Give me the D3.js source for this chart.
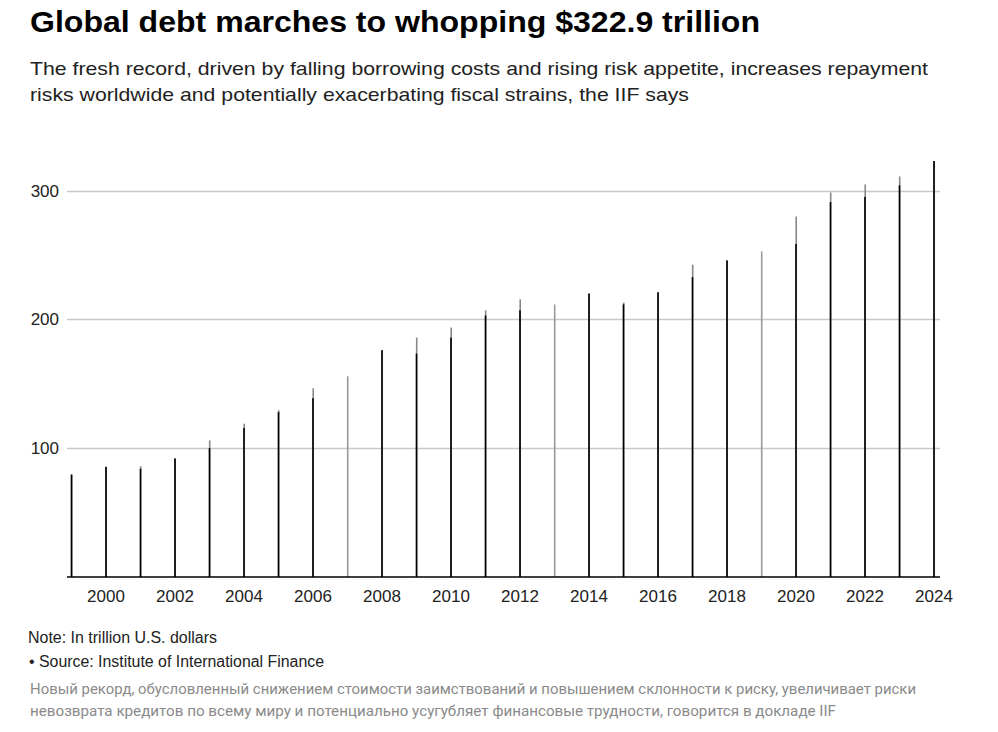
<!DOCTYPE html>
<html>
<head>
<meta charset="utf-8">
<script src="https://cdn.jsdelivr.net/npm/d3@7"></script>
<style>
  body { margin: 0; background: #fff; }
  svg text { font-family: "Liberation Sans", Arial, sans-serif; }
</style>
</head>
<body>
<svg id="chart" width="998" height="732"></svg>
<script>
// year of each bar
const years = d3.range(1999, 2025);
// taller reading per year (trillion USD)
const debtHigh = [79.5, 85.5, 86, 92, 106, 119, 129.5, 146.5, 155.8, 176, 185.8, 193.6, 207,
    215.5, 211.6, 220, 213, 221, 242.4, 245.7, 252.7, 279.8, 298.4, 304.7, 310.9, 322.9];
// lower reading per year (null where only one is drawn)
const debtLow = [79.5, 85.5, 84, 92, 100, 115.7, 128, 138.8, null, 176, 173.4, 185.8, 203,
    207, null, 220, 211.6, 221, 232.8, 245.7, null, 258.4, 291, 295, 304, 322.9];
const yTicks = [100, 200, 300];
const xTicks = d3.range(2000, 2025, 2);

const svg = d3.select('#chart');

const x = d3.scaleLinear().domain([1999, 2024]).range([71.5, 934]);
const y = d3.scaleLinear().domain([0, 300]).range([577, 190.5]);

// title + subtitle
svg.append('text')
    .attr('x', 30).attr('y', 32)
    .attr('font-size', 30).attr('font-weight', 'bold')
    .attr('fill', '#000')
    .attr('textLength', 730).attr('lengthAdjust', 'spacingAndGlyphs')
    .text('Global debt marches to whopping $322.9 trillion');

const subLines = [
    ['The fresh record, driven by falling borrowing costs and rising risk appetite, increases repayment', 898],
    ['risks worldwide and potentially exacerbating fiscal strains, the IIF says', 659]
];
subLines.forEach((l, i) => {
    svg.append('text')
        .attr('x', 30).attr('y', 75 + i * 26)
        .attr('font-size', 19).attr('fill', '#222')
        .attr('textLength', l[1]).attr('lengthAdjust', 'spacingAndGlyphs')
        .text(l[0]);
});

// gridlines
svg.append('g')
    .selectAll('line')
    .data(yTicks)
    .join('line')
    .attr('x1', 67).attr('x2', 940)
    .attr('y1', d => Math.round(y(d)) + 0.5)
    .attr('y2', d => Math.round(y(d)) + 0.5)
    .attr('stroke', '#c8c8c8').attr('stroke-width', 1.3);

// y labels
svg.append('g')
    .selectAll('text')
    .data(yTicks)
    .join('text')
    .attr('x', 59)
    .attr('y', d => y(d) + 6)
    .attr('text-anchor', 'end')
    .attr('font-size', 17).attr('fill', '#222')
    .text(d => d);

// bars: tall light part, then darker part on top
const data = years.map((yr, i) => ({ year: yr, hi: debtHigh[i], lo: debtLow[i] }));

svg.append('g')
    .selectAll('rect')
    .data(data)
    .join('rect')
    .attr('x', d => x(d.year) - 0.6)
    .attr('width', 1.6)
    .attr('y', d => y(d.hi))
    .attr('height', d => y(0) - y(d.hi))
    .attr('fill', d => d.lo === null ? '#9a9a9a' : '#888');

svg.append('g')
    .selectAll('rect')
    .data(data.filter(d => d.lo !== null))
    .join('rect')
    .attr('x', d => x(d.year) - 0.8)
    .attr('width', 1.6)
    .attr('y', d => y(d.lo))
    .attr('height', d => y(0) - y(d.lo))
    .attr('fill', '#000');

// baseline
svg.append('line')
    .attr('x1', 67).attr('x2', 940)
    .attr('y1', 577).attr('y2', 577)
    .attr('stroke', '#000').attr('stroke-width', 1.5);

// x labels
svg.append('g')
    .selectAll('text')
    .data(xTicks)
    .join('text')
    .attr('x', d => x(d))
    .attr('y', 602)
    .attr('text-anchor', 'middle')
    .attr('font-size', 17).attr('fill', '#222')
    .text(d => d);

// footer
svg.append('text')
    .attr('x', 28).attr('y', 643)
    .attr('font-size', 16).attr('fill', '#222')
    .attr('textLength', 189).attr('lengthAdjust', 'spacingAndGlyphs')
    .text('Note: In trillion U.S. dollars');
svg.append('text')
    .attr('x', 29).attr('y', 667)
    .attr('font-size', 16).attr('fill', '#222')
    .attr('textLength', 295).attr('lengthAdjust', 'spacingAndGlyphs')
    .text('• Source: Institute of International Finance');

const ruLines = [
    ['Новый рекорд, обусловленный снижением стоимости заимствований и повышением склонности к риску, увеличивает риски', 886],
    ['невозврата кредитов по всему миру и потенциально усугубляет финансовые трудности, говорится в докладе IIF', 806]
];
ruLines.forEach((l, i) => {
    svg.append('text')
        .attr('x', 30).attr('y', 694 + i * 22)
        .attr('font-size', 15.5).attr('fill', '#8a8a8a')
        .style('font-family', 'Roboto, sans-serif')
        .attr('textLength', l[1]).attr('lengthAdjust', 'spacingAndGlyphs')
        .text(l[0]);
});
</script>
</body>
</html>
